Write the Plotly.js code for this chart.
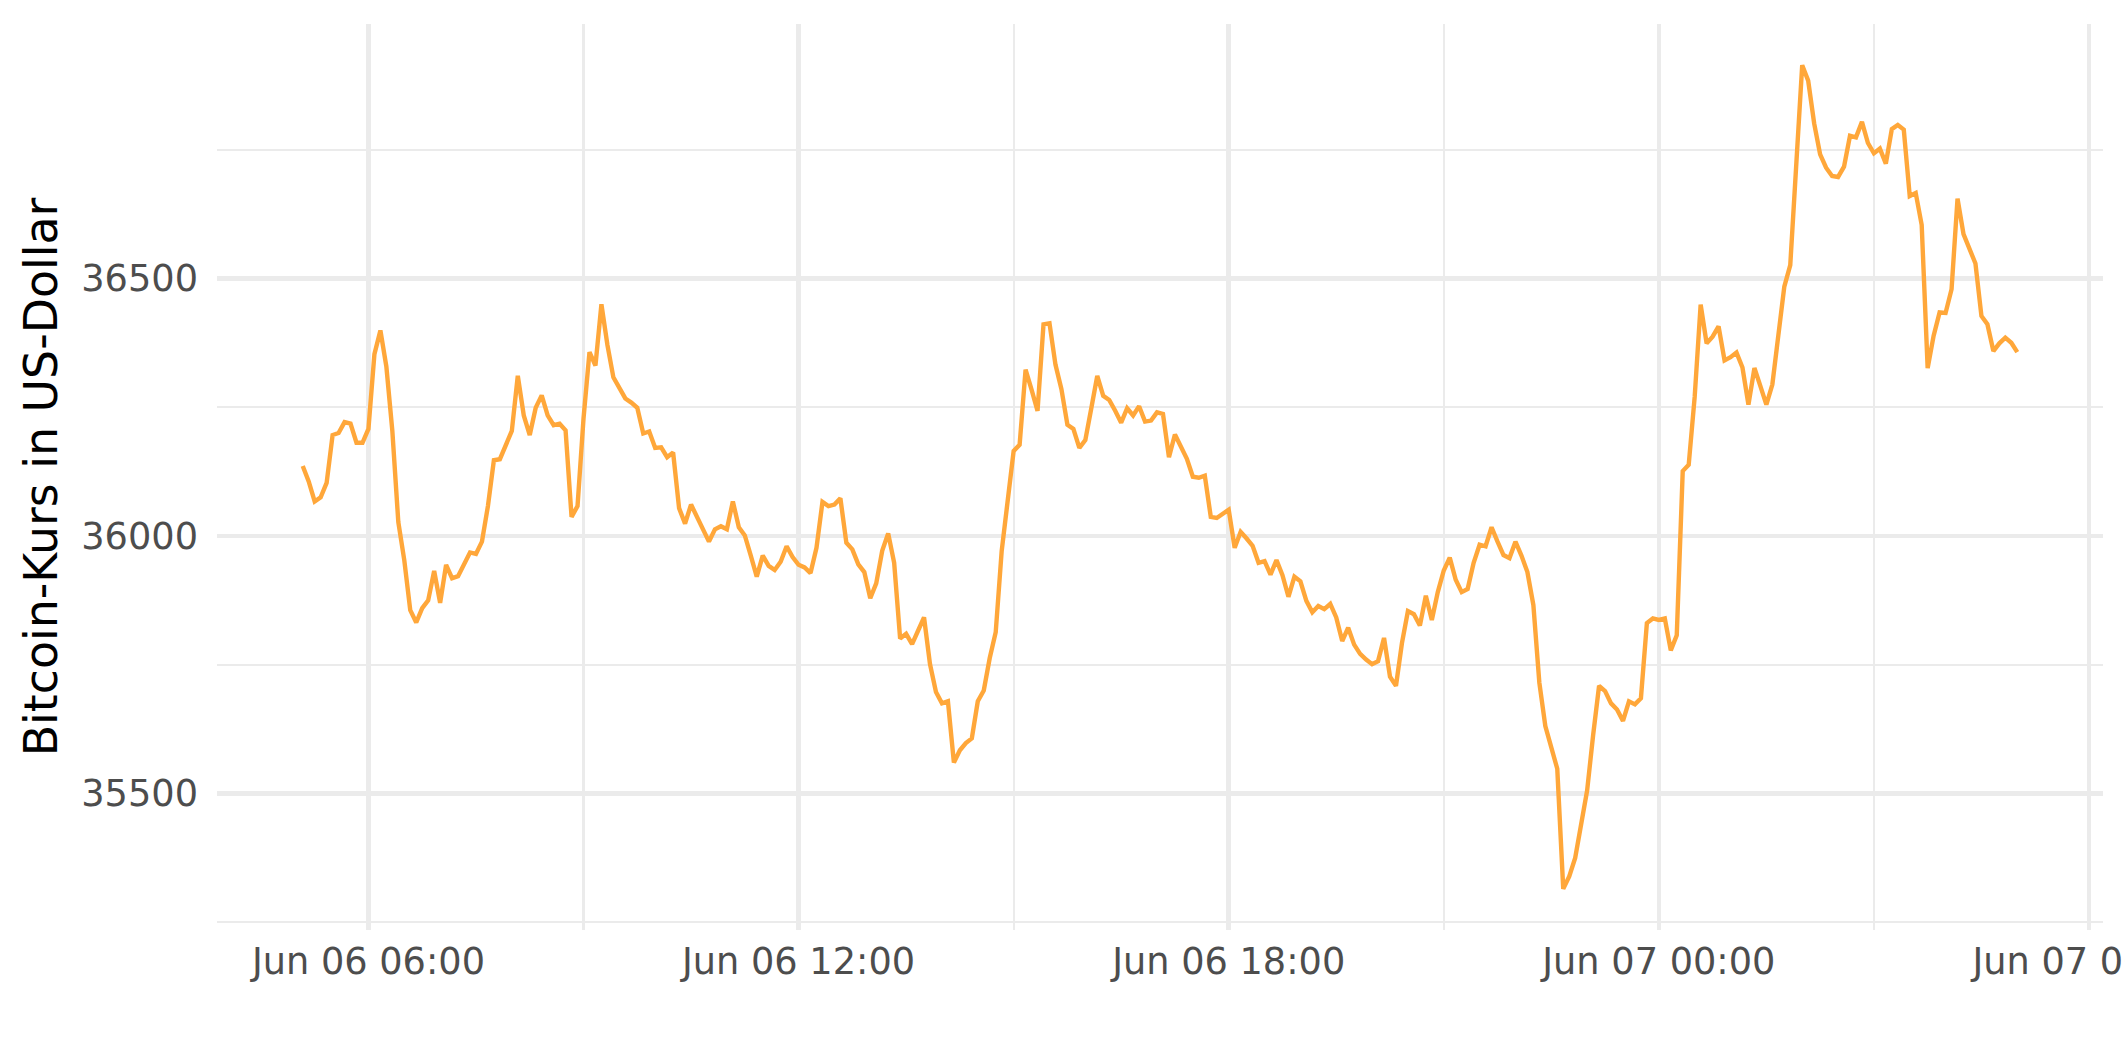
<!DOCTYPE html>
<html>
<head>
<meta charset="utf-8">
<script src="https://cdn.plot.ly/plotly-3.0.1.min.js"></script>
<style>html,body{margin:0;padding:0;background:#fff;}#chart{width:2125px;height:1062px;}</style>
</head>
<body>
<div id="chart"></div>
<script>
// Time stamps (5-minute steps), Jun 06 and Jun 07 2021
const timesJun06 = [
  "05:05","05:10","05:15","05:20","05:25","05:30","05:35","05:40","05:45","05:50","05:55",
  "06:00","06:05","06:10","06:15","06:20","06:25","06:30","06:35","06:40","06:45","06:50","06:55",
  "07:00","07:05","07:10","07:15","07:20","07:25","07:30","07:35","07:40","07:45","07:50","07:55",
  "08:00","08:05","08:10","08:15","08:20","08:25","08:30","08:35","08:40","08:45","08:50","08:55",
  "09:00","09:05","09:10","09:15","09:20","09:25","09:30","09:35","09:40","09:45","09:50","09:55",
  "10:00","10:05","10:10","10:15","10:20","10:25","10:30","10:35","10:40","10:45","10:50","10:55",
  "11:00","11:05","11:10","11:15","11:20","11:25","11:30","11:35","11:40","11:45","11:50","11:55",
  "12:00","12:05","12:10","12:15","12:20","12:25","12:30","12:35","12:40","12:45","12:50","12:55",
  "13:00","13:05","13:10","13:15","13:20","13:25","13:30","13:35","13:40","13:45","13:50","13:55",
  "14:00","14:05","14:10","14:15","14:20","14:25","14:30","14:35","14:40","14:45","14:50","14:55",
  "15:00","15:05","15:10","15:15","15:20","15:25","15:30","15:35","15:40","15:45","15:50","15:55",
  "16:00","16:05","16:10","16:15","16:20","16:25","16:30","16:35","16:40","16:45","16:50","16:55",
  "17:00","17:05","17:10","17:15","17:20","17:25","17:30","17:35","17:40","17:45","17:50","17:55",
  "18:00","18:05","18:10","18:15","18:20","18:25","18:30","18:35","18:40","18:45","18:50","18:55",
  "19:00","19:05","19:10","19:15","19:20","19:25","19:30","19:35","19:40","19:45","19:50","19:55",
  "20:00","20:05","20:10","20:15","20:20","20:25","20:30","20:35","20:40","20:45","20:50","20:55",
  "21:00","21:05","21:10","21:15","21:20","21:25","21:30","21:35","21:40","21:45","21:50","21:55",
  "22:00","22:05","22:10","22:15","22:20","22:25","22:30","22:35","22:40","22:45","22:50","22:55",
  "23:00","23:05","23:10","23:15","23:20","23:25","23:30","23:35","23:40","23:45","23:50","23:55"
];
const pricesJun06 = [
  36136,36106,36067,36075,36103,36196,36200,36221,36218,36181,36181,
  36208,36353,36399,36329,36204,36027,35953,35856,35832,35860,35875,35932,
  35870,35944,35918,35922,35944,35968,35965,35989,36058,36147,36149,36174,
  36204,36311,36234,36196,36249,36273,36234,36215,36218,36205,36037,36058,
  36228,36357,36331,36450,36371,36308,36288,36267,36259,36249,36199,36203,
  36171,36172,36153,36162,36054,36024,36061,36037,36013,35989,36013,36019,
  36013,36067,36017,36001,35962,35921,35962,35942,35934,35950,35980,35959,
  35944,35939,35928,35977,36066,36058,36061,36073,35987,35974,35945,35930,
  35879,35908,35971,36005,35948,35801,35810,35790,35816,35842,35751,35697,
  35675,35679,35560,35584,35598,35607,35679,35700,35763,35813,35971,36073,
  36165,36177,36323,36284,36243,36411,36413,36333,36285,36216,36208,36171,
  36186,36248,36311,36272,36264,36243,36220,36248,36234,36252,36222,36224,
  36240,36237,36153,36197,36174,36150,36115,36113,36117,36037,36035,36043,
  36051,35977,36008,35995,35981,35948,35951,35925,35953,35924,35882,35921,
  35912,35874,35852,35864,35858,35868,35842,35796,35822,35789,35771,35760,
  35751,35757,35802,35727,35709,35792,35854,35848,35826,35884,35837,35891,
  35933,35958,35915,35891,35897,35948,35983,35980,36017,35989,35963,35957,
  35989,35962,35930,35866,35715,35631,35590,35548,35315,35339,35375,35446,
  35506,35613,35709,35699,35675,35663,35641,35679,35673,35685,35831,35840
];
const timesJun07 = [
  "00:00","00:05","00:10","00:15","00:20","00:25","00:30","00:35","00:40","00:45","00:50","00:55",
  "01:00","01:05","01:10","01:15","01:20","01:25","01:30","01:35","01:40","01:45","01:50","01:55",
  "02:00","02:05","02:10","02:15","02:20","02:25","02:30","02:35","02:40","02:45","02:50","02:55",
  "03:00","03:05","03:10","03:15","03:20","03:25","03:30","03:35","03:40","03:45","03:50","03:55",
  "04:00","04:05","04:10","04:15","04:20","04:25","04:30","04:35","04:40","04:45","04:50","04:55",
  "05:00"
];
const pricesJun07 = [
  35837,35840,35778,35807,36126,36138,36270,36449,36374,36387,36407,36341,
  36347,36356,36327,36255,36326,36291,36255,36294,36387,36484,36526,36717,
  36914,36884,36801,36741,36715,36699,36697,36717,36777,36774,36804,36763,
  36743,36752,36723,36790,36798,36789,36660,36666,36604,36326,36389,36434,
  36433,36479,36655,36586,36556,36529,36427,36411,36359,36374,36385,36375,
  36357
];
const yTickValues = [35500, 36000, 36500];
const yTickLabels = ["35500", "36000", "36500"];
const yAxisTitle = "Bitcoin-Kurs in US-Dollar";

const x = timesJun06.map(t => "2021-06-06 " + t).concat(timesJun07.map(t => "2021-06-07 " + t));
const y = pricesJun06.concat(pricesJun07);

const grid = "#EBEBEB";
const font = "DejaVu Sans";

const trace = {
  x: x, y: y, type: "scatter", mode: "lines",
  line: {color: "#FFA73A", width: 4.4},
  hoverinfo: "skip"
};

const layout = {
  width: 2125, height: 1062,
  margin: {l: 217, r: 22, t: 24, b: 132, pad: 0},
  paper_bgcolor: "#ffffff", plot_bgcolor: "#ffffff",
  showlegend: false,
  font: {family: font, color: "#4D4D4D"},
  xaxis: {
    type: "date",
    range: ["2021-06-06 03:53:15", "2021-06-07 06:11:45"],
    tick0: "2021-06-06 00:00", dtick: 6 * 3600000,
    tickformat: "%b %d %H:%M",
    ticks: "", showline: false, zeroline: false,
    showgrid: true, gridcolor: grid, gridwidth: 4.4,
    minor: {dtick: 3 * 3600000, showgrid: true, gridcolor: grid, gridwidth: 2.2, ticks: ""},
    tickfont: {family: font, size: 36.7, color: "#4D4D4D"},
    ticklabelstandoff: 6,
    ticklabeloverflow: "allow",
    fixedrange: true
  },
  yaxis: {
    range: [35235, 36994],
    tickmode: "array", tickvals: yTickValues, ticktext: yTickLabels,
    ticks: "", showline: false, zeroline: false,
    showgrid: true, gridcolor: grid, gridwidth: 4.4,
    minor: {tickmode: "linear", tick0: 0, dtick: 250, showgrid: true, gridcolor: grid, gridwidth: 2.2, ticks: ""},
    tickfont: {family: font, size: 36.7, color: "#4D4D4D"},
    ticklabelstandoff: 18,
    title: {text: yAxisTitle, font: {family: font, size: 45.8, color: "#000000"}, standoff: 9},
    fixedrange: true
  }
};

Plotly.newPlot("chart", [trace], layout, {displayModeBar: false, staticPlot: true});
</script>
</body>
</html>
